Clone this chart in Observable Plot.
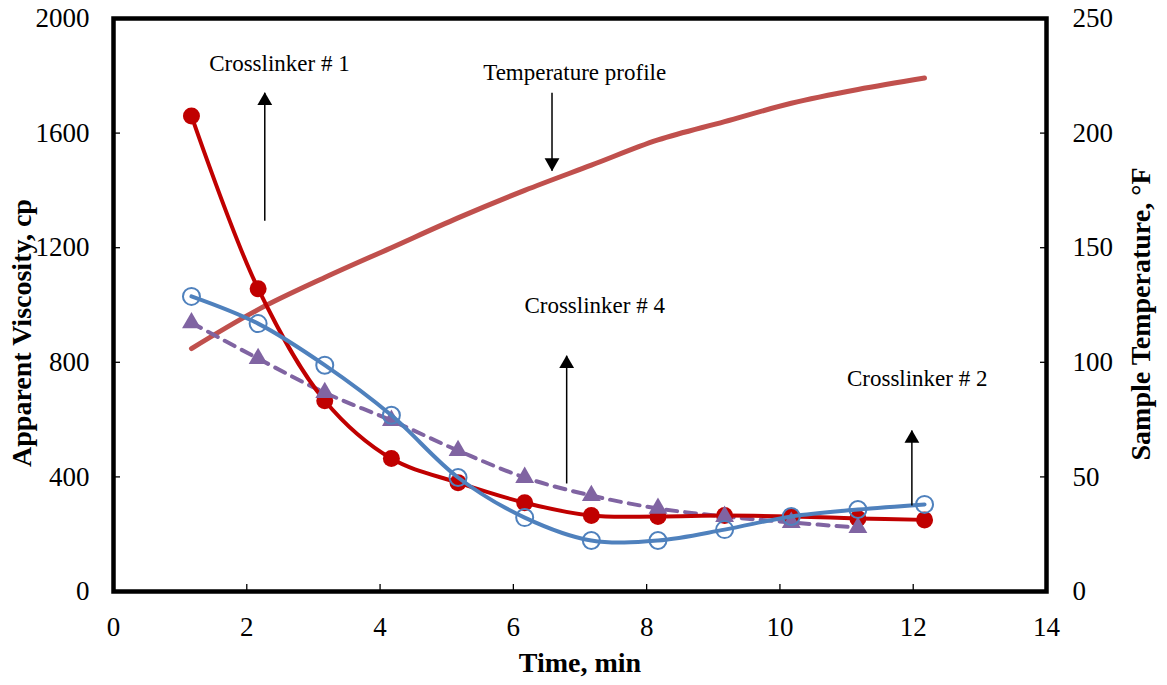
<!DOCTYPE html>
<html><head><meta charset="utf-8">
<script src="https://cdn.jsdelivr.net/npm/d3@7"></script>
<script src="https://cdn.jsdelivr.net/npm/@observablehq/plot@0.6"></script>
<style>body{margin:0;background:#fff} svg{font-family:"Liberation Serif","Times New Roman",serif}</style>
</head><body><div id="chart"></div>
<script>
// ---- data ----
const time = [1.17, 2.17, 3.17, 4.17, 5.17, 6.17, 7.17, 8.17, 9.17, 10.17, 11.17, 12.17];
const crosslinker1 = [1660, 1057, 666, 464, 380, 310, 265, 262, 265, 262, 255, 250];
const crosslinker2 = [1030, 935, 790, 615, 398, 258, 178, 178, 216, 262, 286, 304];
const time4 = [1.17, 2.17, 3.17, 4.17, 5.17, 6.17, 7.17, 8.17, 9.17, 10.17, 11.17];
const crosslinker4 = [938, 813, 694, 597, 492, 398, 335, 290, 262, 241, 223];
const temperature = [106, 123, 137, 150, 163, 175, 186, 197, 205, 213, 219, 224]; // °F
const xTicks = [0, 2, 4, 6, 8, 10, 12, 14];
const yTicks = [0, 400, 800, 1200, 1600, 2000];
const tempTicks = [0, 50, 100, 150, 200, 250];
const tempToVisc = 2000 / 250;

// annotations (data units)
const labels = [
  {x: 2.49, y: 1842, text: "Crosslinker # 1"},
  {x: 6.92, y: 1811, text: "Temperature profile"},
  {x: 7.22, y: 998, text: "Crosslinker # 4"},
  {x: 12.06, y: 743, text: "Crosslinker # 2"}
];
const arrows = [
  {x: 2.27, y1: 1294, y2: 1741, up: true},
  {x: 6.58, y1: 1741, y2: 1469, up: false},
  {x: 6.80, y1: 377, y2: 823, up: true},
  {x: 11.98, y1: 300, y2: 562, up: true}
];

const s1 = time.map((t, i) => ({t, v: crosslinker1[i]}));
const s2 = time.map((t, i) => ({t, v: crosslinker2[i]}));
const s4 = time4.map((t, i) => ({t, v: crosslinker4[i]}));
const sT = time.map((t, i) => ({t, v: temperature[i] * tempToVisc}));

const red = "#C00000", blue = "#4F81BD", purple = "#8064A2", tcol = "#C0504D";

const chart = Plot.plot({
  width: 1167, height: 685,
  marginLeft: 113, marginRight: 121, marginTop: 18, marginBottom: 94,
  style: {fontFamily: "Liberation Serif", background: "#fff"},
  x: {domain: [0, 14]},
  y: {domain: [0, 2000]},
  marks: [
    // inward tick marks
    Plot.axisX({ticks: xTicks, tickSize: -7, text: null, stroke: "#000", strokeWidth: 1.3}),
    Plot.axisY({ticks: yTicks, tickSize: -7, text: null, stroke: "#000", strokeWidth: 1.3}),
    Plot.axisY({ticks: yTicks, anchor: "right", tickSize: -7, text: null, stroke: "#000", strokeWidth: 1.3}),
    // tick labels
    Plot.axisX({ticks: xTicks, tickSize: 0, tickPadding: 25, fontSize: 27, label: null, fill: "#000", tickFormat: d => String(d)}),
    Plot.axisY({ticks: yTicks, tickSize: 0, tickPadding: 24, fontSize: 27, label: null, fill: "#000", tickFormat: d => String(d)}),
    Plot.text(tempTicks, {y: d => d * tempToVisc, text: d => String(d), frameAnchor: "right", dx: 26, textAnchor: "start", fontSize: 27, fill: "#000"}),
    // temperature profile
    Plot.line(sT, {x: "t", y: "v", stroke: tcol, strokeWidth: 5, curve: "catmull-rom"}),
    // Crosslinker 4 (dashed, triangles)
    Plot.line(s4, {x: "t", y: "v", stroke: purple, strokeWidth: 4, strokeDasharray: "11,8", curve: "catmull-rom"}),
    // Crosslinker 1
    Plot.line(s1, {x: "t", y: "v", stroke: red, strokeWidth: 4, curve: "catmull-rom"}),
    Plot.dot(s1, {x: "t", y: "v", r: 8.5, fill: red}),
    Plot.dot(s4, {x: "t", y: "v", r: 7, symbol: "triangle", fill: purple}),
    // Crosslinker 2
    Plot.line(s2, {x: "t", y: "v", stroke: blue, strokeWidth: 4, curve: "catmull-rom"}),
    Plot.dot(s2, {x: "t", y: "v", r: 8.5, fill: "none", stroke: blue, strokeWidth: 2}),
    // annotations
    Plot.link(arrows, {x1: "x", x2: "x", y1: "y1", y2: "y2", stroke: "#000", strokeWidth: 1.5}),
    Plot.dot(arrows.filter(d => d.up), {x: "x", y: "y2", symbol: "triangle", r: 5.5, fill: "#000", dy: 8}),
    Plot.dot(arrows.filter(d => !d.up), {x: "x", y: "y2", symbol: "triangle", r: 5.5, fill: "#000", rotate: 180, dy: -8}),
    Plot.text(labels, {x: "x", y: "y", text: "text", fontSize: 23, fill: "#000"}),
    // axis titles
    Plot.text(["Time, min"], {frameAnchor: "bottom", dy: 80, text: d => d, fontSize: 28, fontWeight: "bold", fill: "#000"}),
    Plot.text(["Apparent Viscosity, cp"], {frameAnchor: "left", textAnchor: "middle", dx: -91, dy: 28, rotate: -90, text: d => d, fontSize: 28, fontWeight: "bold", fill: "#000"}),
    Plot.text(["Sample Temperature, \u00B0F"], {frameAnchor: "right", textAnchor: "middle", dx: 95, dy: 9, rotate: -90, text: d => d, fontSize: 28, fontWeight: "bold", fill: "#000"}),
    Plot.frame({stroke: "#000", strokeWidth: 4.5})
  ]
});
document.getElementById("chart").appendChild(chart);
</script>
</body></html>
